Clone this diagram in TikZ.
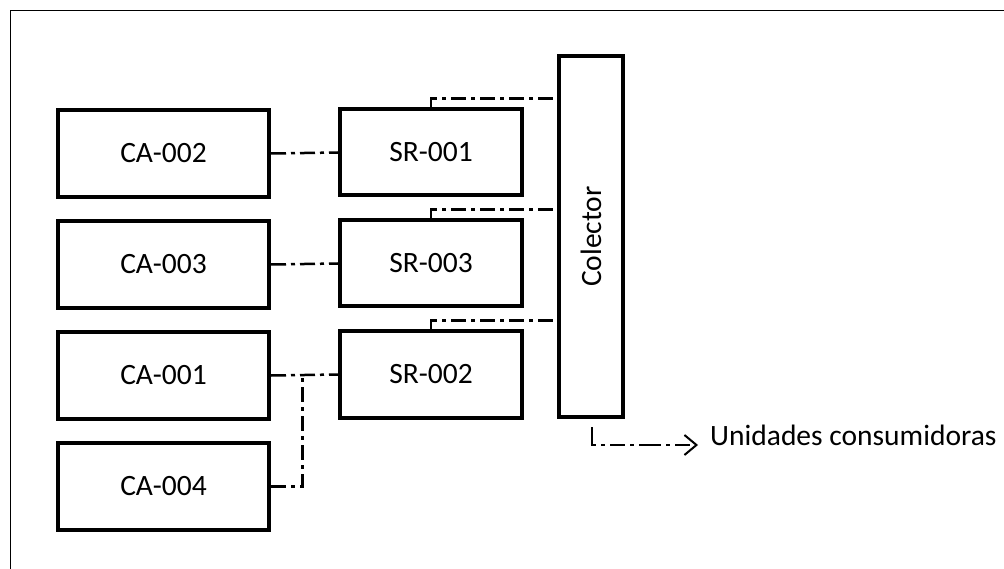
\documentclass[tikz,border=0pt]{standalone}
\usepackage{fontspec}
\setmainfont{Carlito}
\usetikzlibrary{arrows.meta,calc}
\begin{document}
\begin{tikzpicture}[x=1pt,y=1pt,
  txt/.style={font=\fontsize{29.5}{34}\selectfont},
  box/.style={draw,line width=4pt,inner sep=0pt,txt},
  cabox/.style={box,minimum width=211pt,minimum height=87pt},
  srbox/.style={box,minimum width=182pt,minimum height=86pt},
  conn/.style={line width=2.5pt,dash pattern=on 15pt off 5pt on 4pt off 5pt},
  ]
\useasboundingbox (0,0) rectangle (1004,-569);
\draw[line width=1.8pt] (10.5,-569) -- (10.5,-10.5) -- (1004,-10.5);

\node[cabox] (ca2) at (163.5,-153.5) {CA-002};
\node[cabox] (ca3) at (163.5,-264.5) {CA-003};
\node[cabox] (ca1) at (163.5,-375.5) {CA-001};
\node[cabox] (ca4) at (163.5,-486.5) {CA-004};

\node[srbox] (sr1) at (431,-152.5) {SR-001};
\node[srbox] (sr3) at (431,-263.5) {SR-003};
\node[srbox] (sr2) at (431,-374.5) {SR-002};

\node[box,minimum width=64pt,minimum height=361pt] (col) at (591,-236.5) {\rotatebox{90}{Colector}};

\node[txt,anchor=base west,inner sep=0pt] (uc) at (710,-445) {Unidades consumidoras};

\draw[conn] (ca2.east) -- (sr1.west);
\draw[conn] (ca3.east) -- (sr3.west);
\draw[conn] (ca1.east) -- (sr2.west);
\draw[conn] (ca4.east) -| ($(ca1.east)!0.47!(sr2.west)$);

\draw[conn] (sr1.north) |- ($(sr1.north -| col.west)+(0,9)$);
\draw[conn] (sr3.north) |- ($(sr3.north -| col.west)+(0,9)$);
\draw[conn] (sr2.north) |- ($(sr2.north -| col.west)+(0,9)$);

\coordinate (cb) at ($(col.south)+(1,-8)$);
\draw[conn,dash pattern=on 22pt off 5pt on 4pt off 5pt on 15pt off 5pt on 4pt off 5pt,-{Straight Barb[length=12pt,width=20pt,line width=2pt]}] (cb) |- ($(uc.base west)+(-12,0)$);
\end{tikzpicture}
\end{document}
